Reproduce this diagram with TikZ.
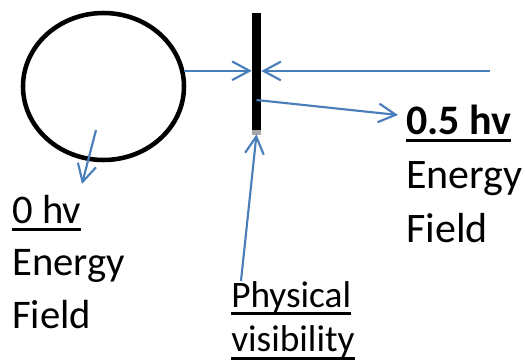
\documentclass[tikz,border=0pt]{standalone}
\usepackage{fontspec}
\setmainfont{Carlito}
\usetikzlibrary{arrows.meta,shapes.geometric}
\definecolor{rayblue}{RGB}{74,126,187}
\newcommand{\hvul}[1]{\setbox0\hbox{#1}\rlap{\rule[-6pt]{\wd0}{2.2pt}}\box0}
\tikzset{
  ray/.style={draw=rayblue,line width=1.6pt,-{Straight Barb[length=13pt,width=14pt,line width=1.6pt]}},
  txt/.style={anchor=base west,inner sep=0pt,font=\fontsize{30.5}{36}\selectfont},
}

\begin{document}
\begin{tikzpicture}[x=0.75pt,y=-0.75pt]
\path[use as bounding box] (0,0) rectangle (525,360);
% the round field and the wall
\node[ellipse,draw,line width=3.4pt,minimum width=120.75pt,minimum height=110.25pt,inner sep=0pt] (circ) at (103.5,86.5) {};
\node[fill=black,minimum width=6.75pt,minimum height=87.75pt,inner sep=0pt] (bar) at (256.5,71.5) {};
\fill[black!35] (bar.south west) rectangle ([yshift=-3.75pt]bar.south east);
% texts
\node[txt] (zero) at (12,223) {\hvul{0 hv}};
\node[txt] (zeroE) at (12,275.5) {Energy};
\node[txt] (zeroF) at (12,328) {Field};
\node[txt,font=\fontsize{31.5}{38}\selectfont] (half) at (406,134) {\hvul{\textbf{0.5 hv}}};
\node[txt,font=\fontsize{31.5}{38}\selectfont] (halfE) at (406,188) {Energy};
\node[txt,font=\fontsize{31.5}{38}\selectfont] (halfF) at (406,242) {Field};
\node[txt,font=\fontsize{28}{34}\selectfont] (phys) at (231,307) {\hvul{Physical}};
\node[txt,font=\fontsize{28}{34}\selectfont] (visi) at (231,351.5) {\hvul{visibility}};
% rays
\coordinate (farR) at (490,71);
\coordinate (emit) at (bar.center |- 0,100);
\coordinate (halfin) at (398,115);
\coordinate (inner) at (96,130);
\coordinate (innerend) at (82,184);
\draw[ray] (circ.11) -- (circ.11 -| bar.west);
\draw[ray] (farR) -- (farR -| bar.east);
\draw[ray] (emit) -- (halfin);
\draw[ray] ([xshift=7.5pt]phys.north west) -- ([yshift=-3pt]bar.south);
\draw[ray] (inner) -- (innerend);
\end{tikzpicture}
\end{document}
